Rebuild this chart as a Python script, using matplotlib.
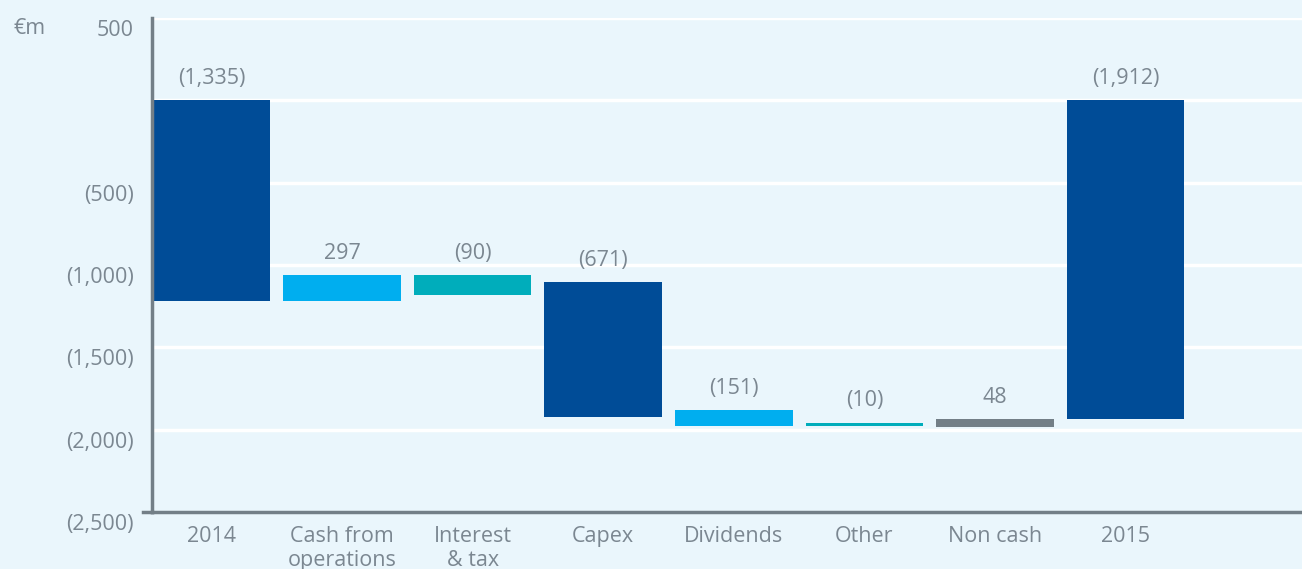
import numpy as np
import matplotlib.pyplot as plt
from matplotlib.transforms import ScaledTranslation

categories = ['2014', 'Cash from\noperations', 'Interest\n& tax', 'Capex',
              'Dividends', 'Other', 'Non cash', '2015']
bar_top = [0, -1063, -1063, -1106, -1883, -1958, -1938, 0]
bar_bottom = [-1221, -1219, -1185, -1924, -1979, -1979, -1985, -1936]
value_labels = ['(1,335)', '297', '(90)', '(671)', '(151)', '(10)', '48', '(1,912)']
ytick_values = [500, -500, -1000, -1500, -2000, -2500]
ytick_labels = ['500', '(500)', '(1,000)', '(1,500)', '(2,000)', '(2,500)']

dark = '#004C97'
cyan = '#00AEEF'
teal = '#00ADBB'
grey = '#737F87'
colors = [dark, cyan, teal, dark, cyan, teal, grey, dark]
bg = '#EAF6FC'
txt = '#7B8791'
fs = 15.5

plt.rcParams['font.family'] = ['Open Sans', 'DejaVu Sans']

fig = plt.figure(figsize=(13.02, 5.69), dpi=100, facecolor=bg)
ax = fig.add_axes([152 / 1302, 57 / 569, 1 - 152 / 1302, 494 / 569])
ax.set_facecolor(bg)

x = np.arange(len(categories))
heights = np.array(bar_top) - np.array(bar_bottom)
ax.bar(x, heights, bottom=bar_bottom, width=0.9, color=colors, zorder=3)

for xi, top, lab in zip(x, bar_top, value_labels):
    ax.annotate(lab, (xi, top), xytext=(0, 8.5), textcoords='offset points',
                ha='center', va='bottom', fontsize=fs, color=txt)

# white gridlines
for g in [500, 0, -500, -1000, -1500, -2000]:
    ax.axhline(g, color='white', lw=2.5, zorder=1)

ax.set_xlim(-0.455, 8.35)
ax.set_ylim(-2500, 500)

ax.set_xticks(x)
ax.set_xticklabels(categories, fontsize=fs, color=txt, linespacing=1.2, va='top')
ax.tick_params(axis='x', length=0, pad=10)

ax.set_yticks(ytick_values)
ax.set_yticklabels(ytick_labels, fontsize=fs, color=txt)
ax.tick_params(axis='y', length=0, pad=13)
for t in ax.get_yticklabels():
    t.set_transform(t.get_transform() + ScaledTranslation(0, -0.1, fig.dpi_scale_trans))

# small tick at the bottom-left corner
ax.plot([-0.008, 0], [-2500, -2500], transform=ax.get_yaxis_transform(),
        color=grey, lw=2.5, clip_on=False, zorder=5)

for s in ['top', 'right']:
    ax.spines[s].set_visible(False)
for s in ['left', 'bottom']:
    ax.spines[s].set_color(grey)
    ax.spines[s].set_linewidth(2.5)
    ax.spines[s].set_zorder(4)

fig.text(30 / 1302, 1 - 28 / 569, '€m', fontsize=fs, color=txt, ha='center', va='center')

fig.savefig('out.png', dpi=100, facecolor=bg)
